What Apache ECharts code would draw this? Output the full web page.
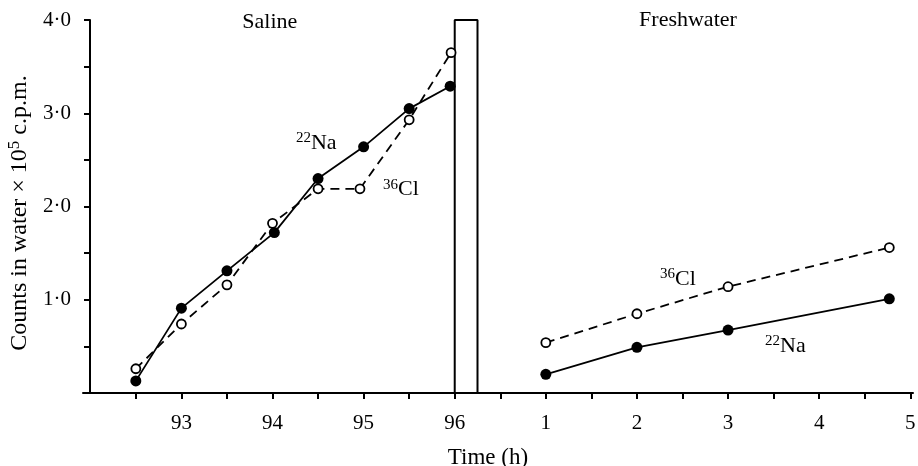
<!DOCTYPE html>
<html>
<head>
<meta charset="utf-8">
<script src="https://cdn.jsdelivr.net/npm/echarts@6/dist/echarts.min.js"></script>
<style>
  html, body { margin: 0; padding: 0; background: #fff; }
  #chart { width: 918px; height: 466px; }
</style>
</head>
<body>
<div id="chart"></div>
<script>
  // saline phase, hours on the absolute clock
  const salineNaHours = [92.5, 93, 93.5, 94.02, 94.5, 95, 95.5, 95.95]
  const salineNa = [0.13, 0.91, 1.31, 1.72, 2.30, 2.64, 3.05, 3.29]
  const salineClHours = [92.5, 93, 93.5, 94, 94.5, 94.96, 95.5, 95.96]
  const salineCl = [0.26, 0.74, 1.16, 1.82, 2.19, 2.19, 2.93, 3.65]

  // freshwater phase, hours after transfer (drawn from 96 onwards)
  const freshStart = 96
  const freshHours = [1, 2, 3, 4.77]
  const freshNa = [0.20, 0.49, 0.675, 1.01]
  const freshCl = [0.54, 0.85, 1.14, 1.56]

  // transfer bar
  const barFrom = 96, barTo = 96.25, barTop = 4.0

  // ticks / labels
  const xTicks = [92.5, 93, 93.5, 94, 94.5, 95, 95.5, 96, 96.5, 97, 97.5, 98, 98.5, 99, 99.5, 100, 100.5, 101]
  const xLabels = [93, 94, 95, 96, 97, 98, 99, 100, 101]
  const yTicks = [0.5, 1, 1.5, 2, 2.5, 3, 3.5, 4]
  const yLabels = [1, 2, 3, 4]

  // text notes in data coordinates
  const notes = [
    { text: 'Saline', x: 93.97, y: 3.98 },
    { text: 'Freshwater', x: 98.56, y: 3.995 },
    { text: '{sup|22}Na', x: 94.48, y: 2.68 },
    { text: '{sup|36}Cl', x: 95.41, y: 2.18 },
    { text: '{sup|36}Cl', x: 98.45, y: 1.22 },
    { text: '{sup|22}Na', x: 99.63, y: 0.50 }
  ]

  const font = 'Liberation Serif'
  const ink = '#000'

  const zip = (xs, ys, off) => xs.map((x, i) => [x + (off || 0), ys[i]])

  const naStyle = {
    type: 'line', symbol: 'circle', symbolSize: 11,
    itemStyle: { color: ink },
    lineStyle: { color: ink, width: 1.8 }
  }
  const clStyle = {
    type: 'line', symbol: 'circle', symbolSize: 9,
    itemStyle: { color: '#fff', borderColor: ink, borderWidth: 1.8 },
    lineStyle: { color: ink, width: 1.8, type: [9, 6] }
  }

  const myChart = echarts.init(document.getElementById('chart'))
  const option = {
    animation: false,
    grid: { left: 83, right: 5, top: 20, bottom: 73, outerBoundsMode: 'none' },
    xAxis: {
      type: 'value',
      min: 91.92,
      max: 101.03,
      name: 'Time (h)',
      nameLocation: 'middle',
      nameGap: 53,
      nameTextStyle: { fontFamily: font, fontSize: 23, color: ink, padding: [0, 20, 0, 0] },
      axisLine: { lineStyle: { color: ink, width: 2 } },
      axisTick: { customValues: xTicks, length: 6, lineStyle: { color: ink, width: 2 } },
      axisLabel: {
        customValues: xLabels,
        margin: 20,
        fontFamily: font, fontSize: 21, color: ink,
        formatter: v => String(Math.round(v > freshStart ? v - freshStart : v))
      },
      splitLine: { show: false }
    },
    yAxis: {
      type: 'value',
      min: 0,
      max: 4,
      offset: -7,
      name: 'Counts in water × 10{sup|5} c.p.m.',
      nameLocation: 'middle',
      nameGap: 48,
      nameTextStyle: {
        fontFamily: font, fontSize: 24, color: ink, padding: [0, 13, 0, 0],
        rich: { sup: { fontFamily: font, fontSize: 17, color: ink, padding: [0, 0, 11, 0] } }
      },
      axisLine: { show: true, lineStyle: { color: ink, width: 2 } },
      axisTick: { customValues: yTicks, length: 6, lineStyle: { color: ink, width: 2 } },
      axisLabel: {
        customValues: yLabels,
        margin: 19,
        fontFamily: font, fontSize: 21, color: ink,
        formatter: v => v.toFixed(1).replace('.', '·')
      },
      splitLine: { show: false }
    },
    series: [
      Object.assign({ name: 'Na saline', data: zip(salineNaHours, salineNa) }, naStyle),
      Object.assign({ name: 'Cl saline', data: zip(salineClHours, salineCl) }, clStyle),
      Object.assign({ name: 'Na fresh', data: zip(freshHours, freshNa, freshStart) }, naStyle),
      Object.assign({ name: 'Cl fresh', data: zip(freshHours, freshCl, freshStart) }, clStyle),
      {
        name: 'transfer',
        type: 'line',
        symbol: 'none',
        lineStyle: { color: ink, width: 2 },
        data: [[barFrom, 0], [barFrom, barTop], [barTo, barTop], [barTo, 0]]
      },
      {
        name: 'notes',
        type: 'scatter',
        symbolSize: 1,
        silent: true,
        itemStyle: { color: 'rgba(0,0,0,0)', opacity: 1 },
        data: notes.map(n => [n.x, n.y, n.text]),
        label: {
          show: true,
          position: 'inside',
          opacity: 1,
          formatter: p => p.data[2],
          fontFamily: font, fontSize: 22, color: ink,
          rich: { sup: { fontFamily: font, fontSize: 15, color: ink, padding: [0, 0, 10, 0] } }
        }
      }
    ]
  }
  option && myChart.setOption(option)
  window.addEventListener('resize', () => {
    myChart.resize()
  })
</script>
</body>
</html>
